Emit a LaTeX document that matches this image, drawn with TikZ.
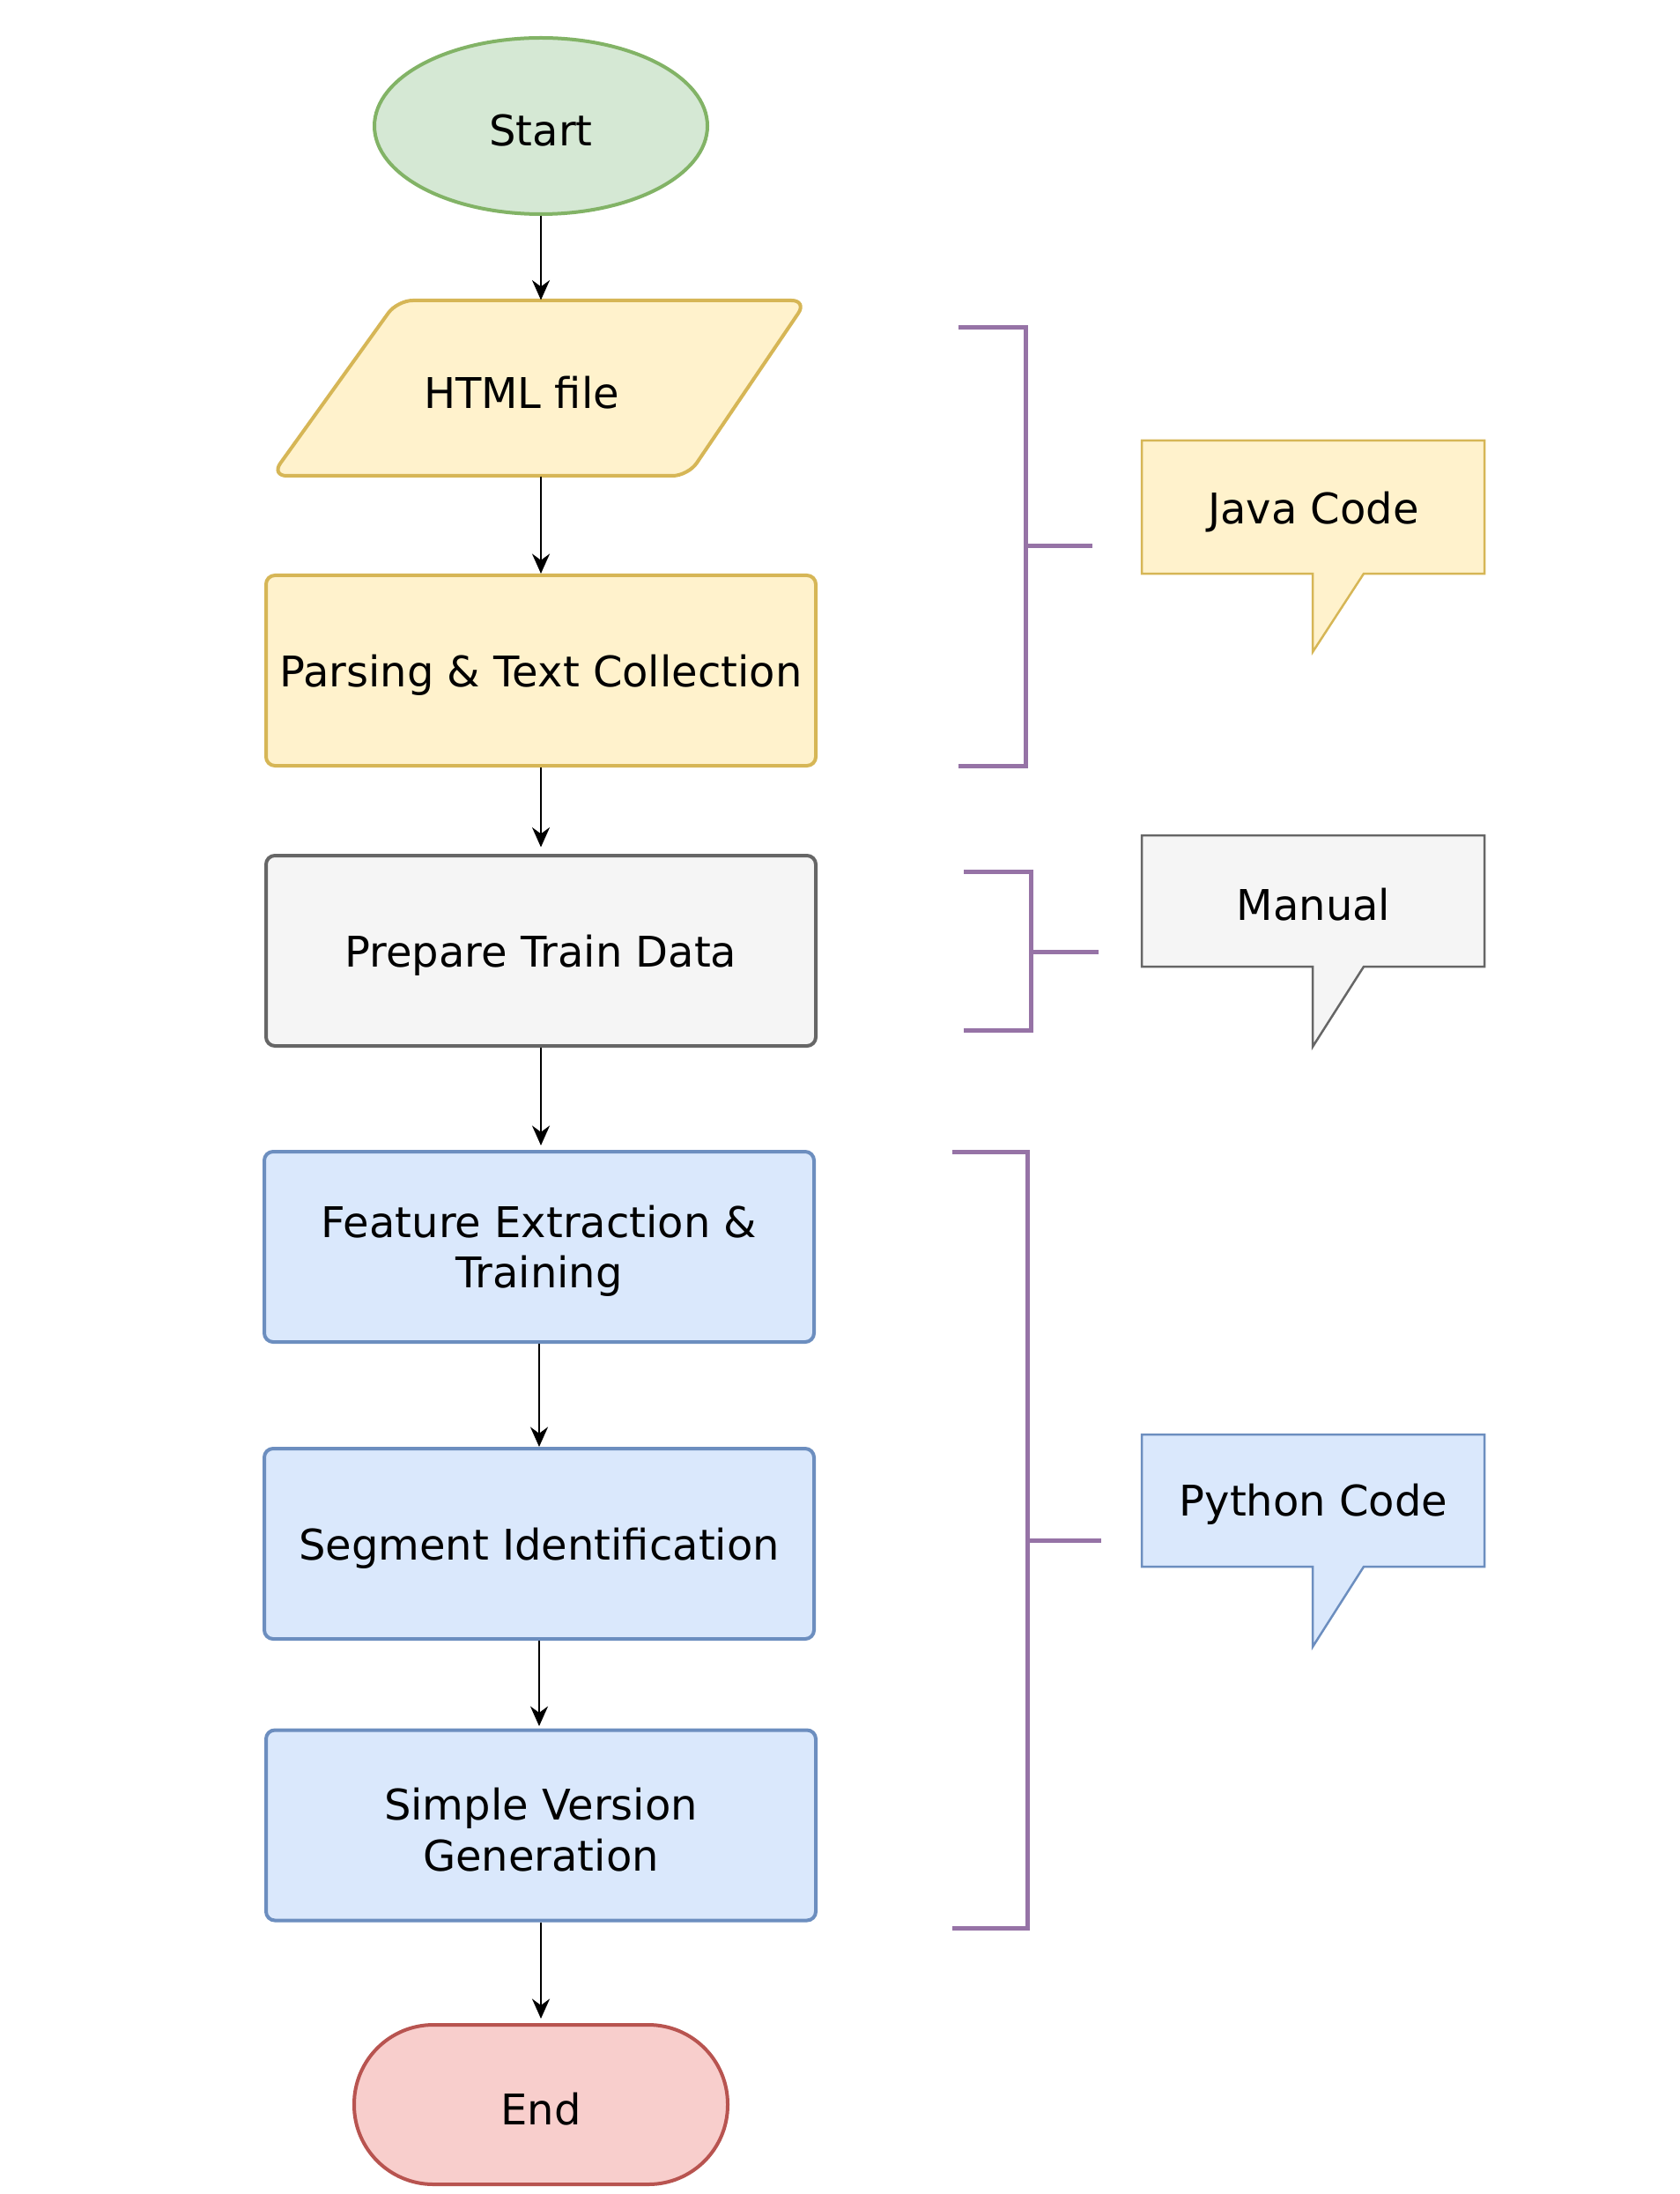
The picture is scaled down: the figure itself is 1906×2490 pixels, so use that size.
\documentclass[tikz,border=0pt]{standalone}
\usepackage{fontspec}
\setmainfont{DejaVu Sans}
\usetikzlibrary{shapes.geometric,arrows.meta}
\definecolor{gfill}{HTML}{D5E8D4}\definecolor{gdraw}{HTML}{82B366}
\definecolor{yfill}{HTML}{FFF2CC}\definecolor{ydraw}{HTML}{D6B656}
\definecolor{sfill}{HTML}{F5F5F5}\definecolor{sdraw}{HTML}{666666}
\definecolor{bfill}{HTML}{DAE8FC}\definecolor{bdraw}{HTML}{6C8EBF}
\definecolor{rfill}{HTML}{F8CECC}\definecolor{rdraw}{HTML}{B85450}
\definecolor{purp}{HTML}{9673A6}
\newcommand{\lowstrut}{\rule{0pt}{18.5pt}}
\begin{document}
\begin{tikzpicture}[x=0.4pt,y=-0.4pt,
  every node/.style={font=\fontsize{19.2}{23}\selectfont, align=center, inner sep=0pt},
  procbox/.style={draw, line width=1.6pt, rounded corners=4pt, minimum width=249.6pt, minimum height=86.4pt},
  yel/.style={fill=yfill, draw=ydraw},
  gry/.style={fill=sfill, draw=sdraw},
  blu/.style={fill=bfill, draw=bdraw},
  arr/.style={-{Stealth[length=9pt,width=8pt]}, line width=1pt, black},
  brk/.style={draw=purp, line width=2pt},
  callout/.style={line width=1pt}
]
\useasboundingbox (0,0) rectangle (1906,2490);

% flow nodes
\node[ellipse, draw=gdraw, fill=gfill, line width=1.6pt, minimum width=151.2pt, minimum height=80pt] (start) at (614,143) {\lowstrut Start};

\draw[yel, line width=1.6pt, rounded corners=7pt] (451,341) -- (916,341) -- (781,540) -- (308,540) -- cycle;
\node[minimum height=79.6pt] (html) at (592,440.5) {\lowstrut HTML file};

\node[procbox, yel] (parse) at (614,761) {\lowstrut Parsing \& Text Collection};
\node[procbox, gry] (prep) at (614,1079) {\lowstrut Prepare Train Data};
\node[procbox, blu] (feat) at (612,1415) {\lowstrut Feature Extraction \&\\Training};
\node[procbox, blu] (seg) at (612,1752) {\lowstrut Segment Identification};
\node[procbox, blu] (simp) at (614,2071.5) {\lowstrut Simple Version\\Generation};
\node[draw=rdraw, fill=rfill, line width=1.6pt, rounded corners=36pt, minimum width=169.6pt, minimum height=72.4pt] (end) at (614,2388.5) {\lowstrut End};

% connectors
\draw[arr] (start.south) -- (start.south |- html.north);
\draw[arr] (parse.north |- html.south) -- (parse.north);
\draw[arr] (parse.south) -- ([yshift=3pt]prep.north);
\draw[arr] (prep.south) -- ([yshift=2pt]prep.south |- feat.north);
\draw[arr] (feat.south) -- (seg.north);
\draw[arr] (seg.south) -- ([yshift=1pt]seg.south |- simp.north);
\draw[arr] (simp.south) -- ([yshift=2pt]end.north);

% brackets
\draw[brk] (1088,372) -- (1164,372) -- (1164,869) -- (1088,869);
\draw[brk] (1164,619) -- (1240,619);
\draw[brk] (1094,989) -- (1170,989) -- (1170,1169) -- (1094,1169);
\draw[brk] (1170,1080) -- (1247,1080);
\draw[brk] (1081,1307) -- (1166,1307) -- (1166,2188) -- (1081,2188);
\draw[brk] (1166,1748) -- (1250,1748);

% callouts
\draw[yel, callout] (1296,500) -- (1685,500) -- (1685,651) -- (1548,651) -- (1490,740) -- (1490,651) -- (1296,651) -- cycle;
\node (java) at (1491,581) {Java Code};
\draw[gry, callout] (1296,948) -- (1685,948) -- (1685,1097) -- (1548,1097) -- (1490,1188) -- (1490,1097) -- (1296,1097) -- cycle;
\node (manual) at (1491,1027) {Manual};
\draw[blu, callout] (1296,1628) -- (1685,1628) -- (1685,1778) -- (1548,1778) -- (1490,1869) -- (1490,1778) -- (1296,1778) -- cycle;
\node (python) at (1491,1707) {Python Code};
\end{tikzpicture}
\end{document}
